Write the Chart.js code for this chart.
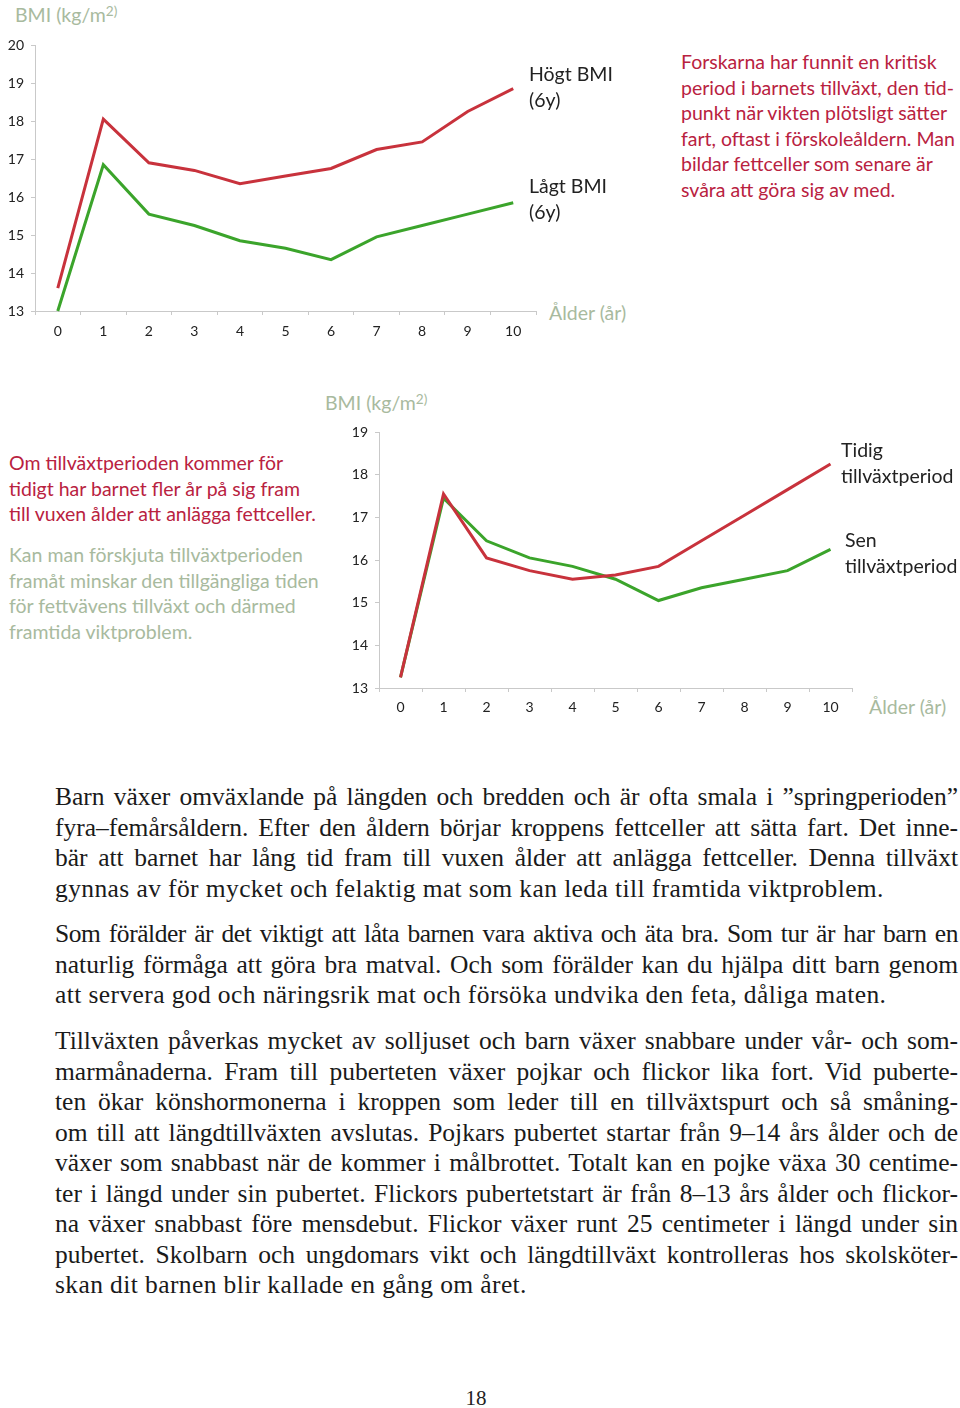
<!DOCTYPE html>
<html>
<head>
<meta charset="utf-8">
<script src="https://cdn.jsdelivr.net/npm/chart.js@4"></script>
<style>
  body { margin: 0; background: #fff; width: 960px; height: 1408px; position: relative; overflow: hidden; }
  .t { position: absolute; font-family: Lato, "Open Sans", sans-serif; font-size: 19.5px; line-height: 25.5px; white-space: nowrap; }
  .sage { color: #a8ba9e; }
  .red { color: #b9223f; }
  .dark { color: #222; }
  sup { font-size: 0.7em; vertical-align: 0.45em; line-height: 0; }
  canvas { position: absolute; }
  .body { position: absolute; left: 55px; width: 903px; font-family: "Liberation Serif", serif; font-size: 25.5px; line-height: 30.5px; color: #1a1a1a; }
  .body div { text-align: justify; text-align-last: justify; height: 30.5px; }
  .body div.last { text-align-last: left; letter-spacing: 0.4px; }
  .body div.tight { letter-spacing: -0.45px; }
  .pnum { position: absolute; left: 0; width: 952px; top: 1386px; text-align: center; font-family: "Liberation Serif", serif; font-size: 21px; color: #222; }
</style>
</head>
<body>

<div class="t sage" style="left:15px;top:2px;">BMI (kg/m<sup>2)</sup></div>
<canvas id="chart1" width="540" height="345" style="left:0;top:0;"></canvas>
<div class="t sage" style="left:549px;top:300px;">Ålder (år)</div>
<div class="t dark" style="left:529px;top:61px;">Högt BMI<br>(6y)</div>
<div class="t dark" style="left:529px;top:173px;">Lågt BMI<br>(6y)</div>
<div class="t red" style="left:681px;top:49px;">Forskarna har funnit en kritisk<br>period i barnets tillväxt, den tid-<br>punkt när vikten plötsligt sätter<br>fart, oftast i förskoleåldern. Man<br>bildar fettceller som senare är<br>svåra att göra sig av med.</div>

<div class="t sage" style="left:325px;top:390px;">BMI (kg/m<sup>2)</sup></div>
<canvas id="chart2" width="516" height="325" style="left:340px;top:400px;"></canvas>
<div class="t sage" style="left:869px;top:694px;">Ålder (år)</div>
<div class="t dark" style="left:841px;top:437px;">Tidig<br>tillväxtperiod</div>
<div class="t dark" style="left:845px;top:527px;">Sen<br>tillväxtperiod</div>
<div class="t red" style="left:9px;top:450px;">Om tillväxtperioden kommer för<br>tidigt har barnet fler år på sig fram<br>till vuxen ålder att anlägga fettceller.</div>
<div class="t sage" style="left:9px;top:542px;">Kan man förskjuta tillväxtperioden<br>framåt minskar den tillgängliga tiden<br>för fettvävens tillväxt och därmed<br>framtida viktproblem.</div>

<div class="body" style="top:782px;">
  <div>Barn växer omväxlande på längden och bredden och är ofta smala i ”springperioden”</div>
  <div>fyra–femårsåldern. Efter den åldern börjar kroppens fettceller att sätta fart. Det inne-</div>
  <div>bär att barnet har lång tid fram till vuxen ålder att anlägga fettceller. Denna tillväxt</div>
  <div class="last">gynnas av för mycket och felaktig mat som kan leda till framtida viktproblem.</div>
</div>
<div class="body" style="top:919px;">
  <div class="tight">Som förälder är det viktigt att låta barnen vara aktiva och äta bra. Som tur är har barn en</div>
  <div>naturlig förmåga att göra bra matval. Och som förälder kan du hjälpa ditt barn genom</div>
  <div class="last">att servera god och näringsrik mat och försöka undvika den feta, dåliga maten.</div>
</div>
<div class="body" style="top:1026px;">
  <div>Tillväxten påverkas mycket av solljuset och barn växer snabbare under vår- och som-</div>
  <div>marmånaderna. Fram till puberteten växer pojkar och flickor lika fort. Vid puberte-</div>
  <div>ten ökar könshormonerna i kroppen som leder till en tillväxtspurt och så småning-</div>
  <div>om till att längdtillväxten avslutas. Pojkars pubertet startar från 9–14 års ålder och de</div>
  <div>växer som snabbast när de kommer i målbrottet. Totalt kan en pojke växa 30 centime-</div>
  <div>ter i längd under sin pubertet. Flickors pubertetstart är från 8–13 års ålder och flickor-</div>
  <div>na växer snabbast före mensdebut. Flickor växer runt 25 centimeter i längd under sin</div>
  <div>pubertet. Skolbarn och ungdomars vikt och längdtillväxt kontrolleras hos skolsköter-</div>
  <div class="last">skan dit barnen blir kallade en gång om året.</div>
</div>
<div class="pnum">18</div>

<script>
// Ålder (år) on the x axis
const ages = ['0', '1', '2', '3', '4', '5', '6', '7', '8', '9', '10']

// Chart 1: BMI at 6 years
const hogtBmi = [13.6, 18.05, 16.9, 16.7, 16.35, 16.55, 16.75, 17.25, 17.45, 18.25, 18.85]
const lagtBmi = [13.0, 16.85, 15.55, 15.25, 14.85, 14.65, 14.35, 14.95, 15.25, 15.55, 15.85]

// Chart 2: early vs late growth period
const tidig = [13.25, 17.55, 16.05, 15.75, 15.55, 15.65, 15.85, 16.45, 17.05, 17.65, 18.25]
const sen = [13.25, 17.45, 16.45, 16.05, 15.85, 15.55, 15.05, 15.35, 15.55, 15.75, 16.25]

const RED = '#c8323c'
const GREEN = '#3ba42b'
const AXIS = '#c9c9c9'

function lineChart (id, series, yMin, yMax, pad, yWidth, xHeight, xPad) {
  const ctx = document.getElementById(id).getContext('2d')
  return new Chart(ctx, {
    type: 'line',
    data: {
      labels: ages,
      datasets: series.map(s => ({
        label: s.label,
        data: s.data,
        borderColor: s.color,
        borderWidth: 3,
        pointRadius: 0,
        tension: 0,
        clip: false
      }))
    },
    options: {
      responsive: false,
      animation: false,
      layout: { padding: pad },
      plugins: { legend: { display: false }, tooltip: { enabled: false } },
      scales: {
        x: {
          type: 'category',
          offset: true,
          grid: { offset: true, drawOnChartArea: false, tickLength: 4, color: AXIS },
          border: { color: AXIS },
          ticks: { color: '#222', font: { family: 'Lato', size: 14 }, padding: xPad, maxRotation: 0 },
          afterFit: scale => { scale.height = xHeight }
        },
        y: {
          min: yMin,
          max: yMax,
          grid: { drawOnChartArea: false, tickLength: 4, color: AXIS },
          border: { color: AXIS },
          ticks: { stepSize: 1, color: '#222', font: { family: 'Lato', size: 14 }, padding: 7 },
          afterFit: scale => { scale.width = yWidth }
        }
      }
    }
  })
}

lineChart('chart1', [
  { label: 'Högt BMI (6y)', data: hogtBmi, color: RED },
  { label: 'Lågt BMI (6y)', data: lagtBmi, color: GREEN }
], 13, 20, { left: 0, right: 4, top: 45, bottom: 0 }, 35, 34, 8)

lineChart('chart2', [
  { label: 'Tidig tillväxtperiod', data: tidig, color: RED },
  { label: 'Sen tillväxtperiod', data: sen, color: GREEN }
], 13, 19, { left: 0, right: 4, top: 32, bottom: 0 }, 39, 37, 7)
</script>
</body>
</html>
